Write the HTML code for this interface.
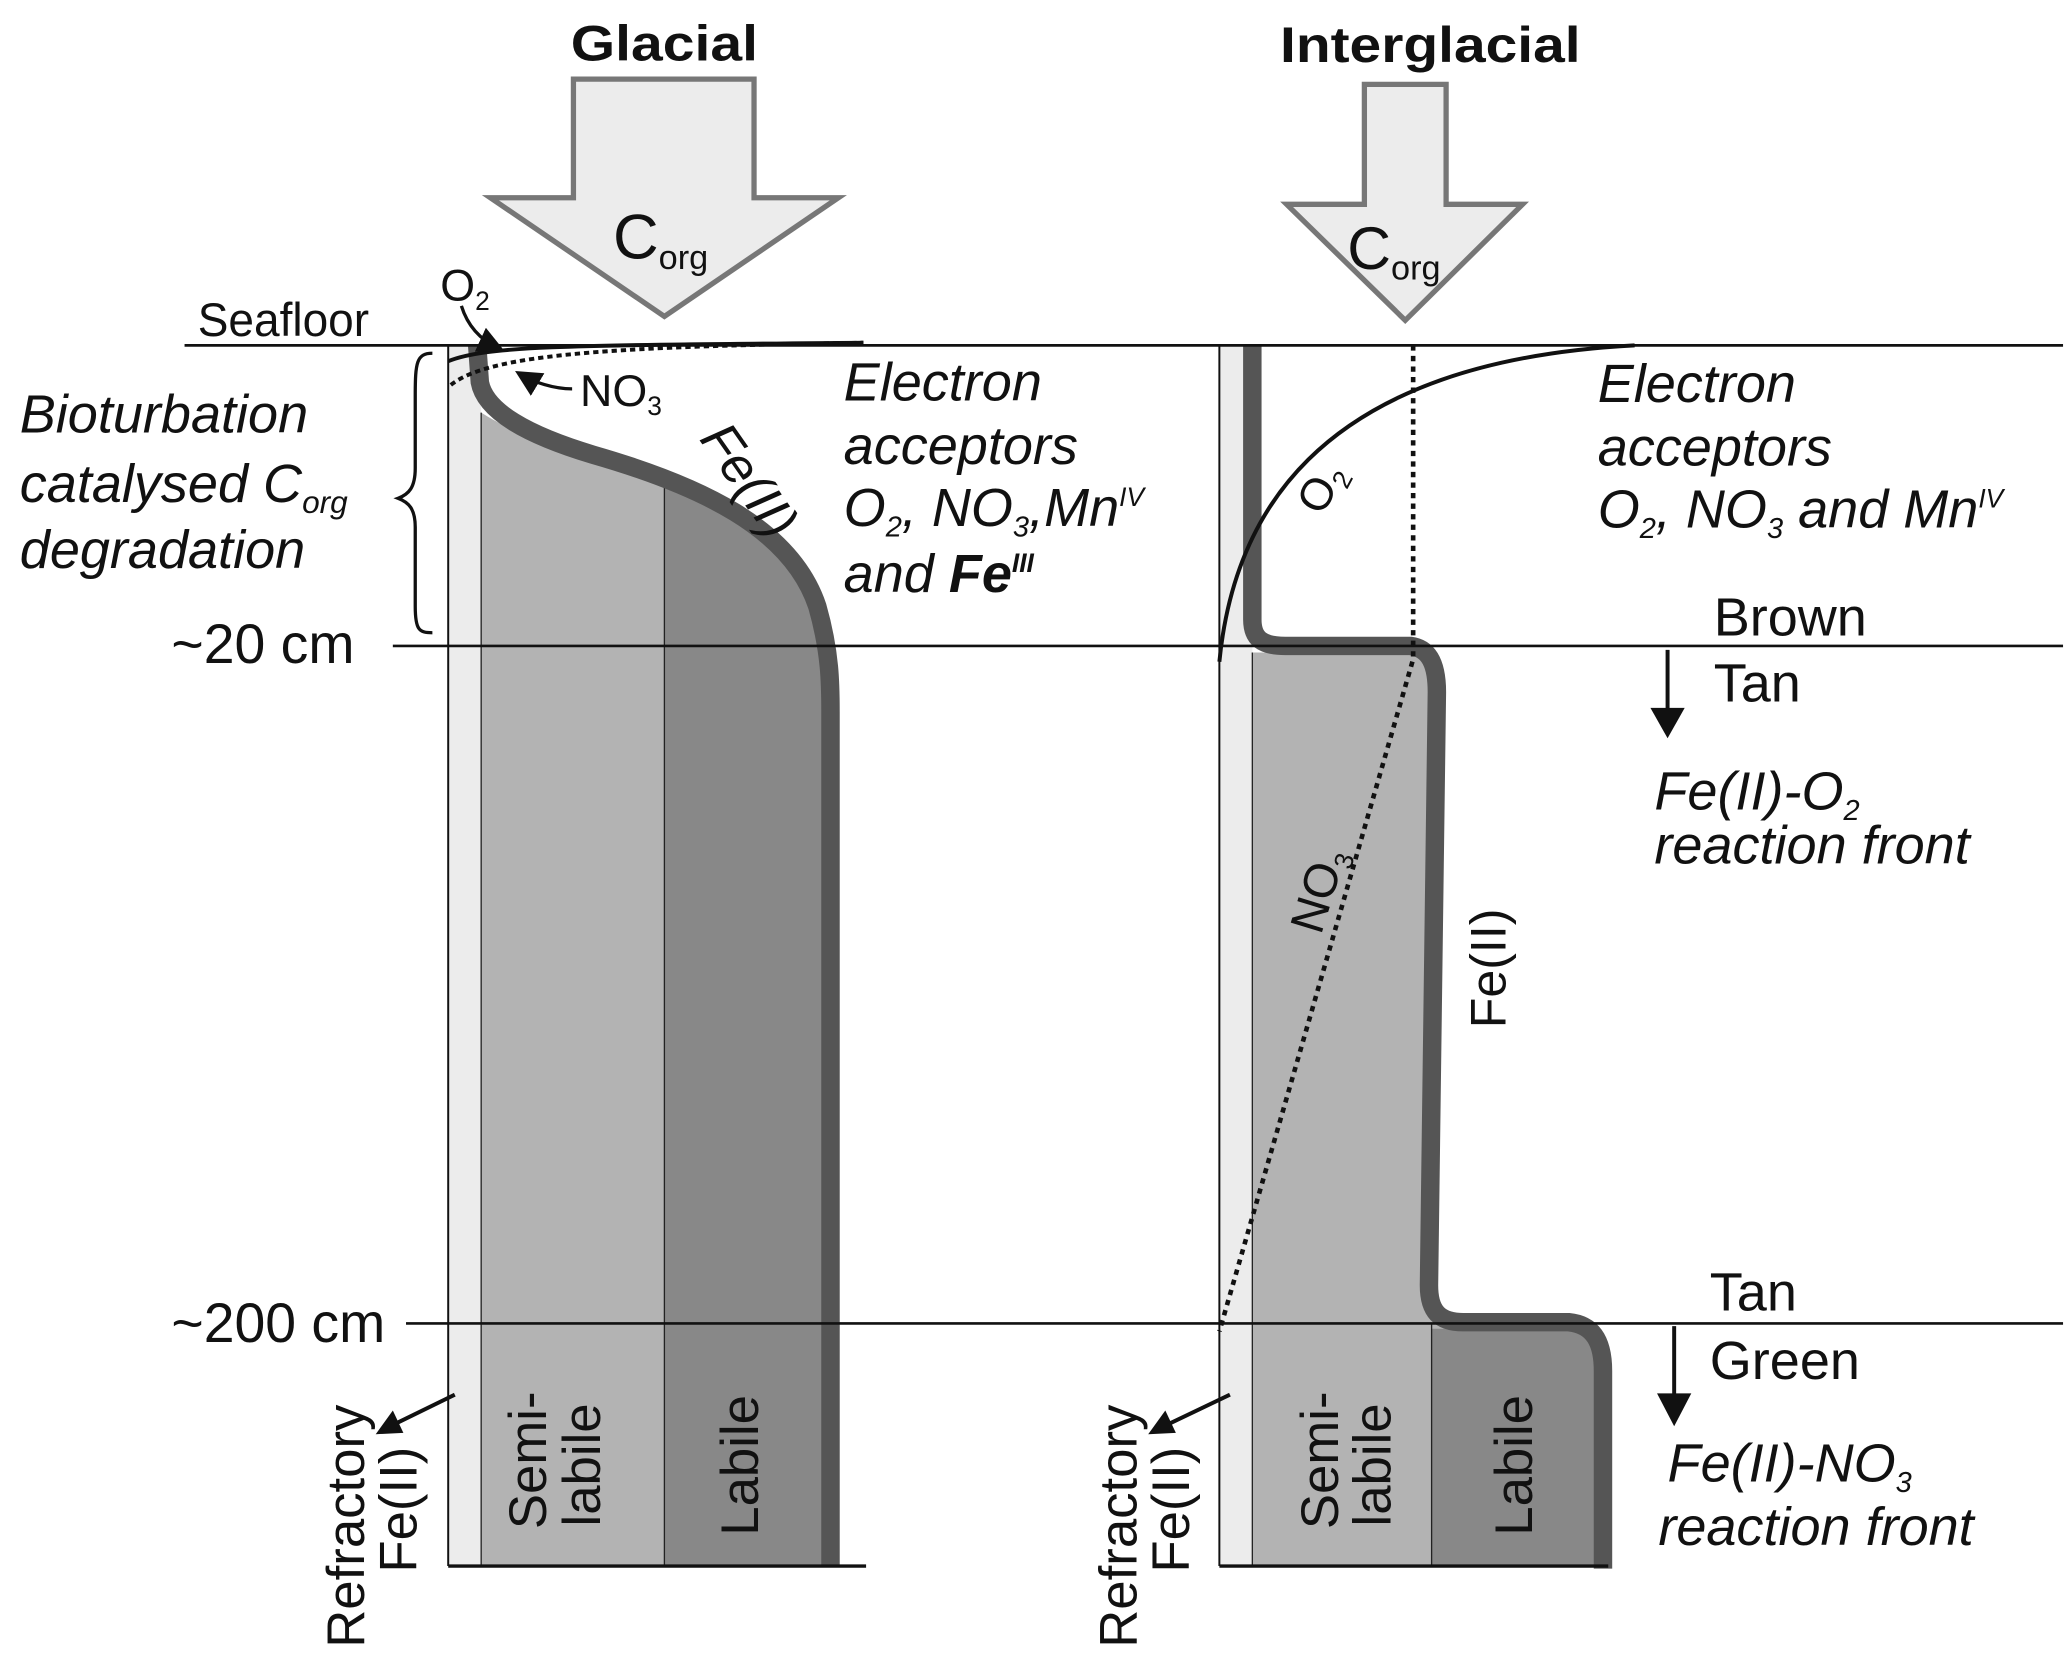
<!DOCTYPE html>
<html><head><meta charset="utf-8"><style>
html,body{margin:0;padding:0;background:#fff}
svg{display:block}
text{font-family:"Liberation Sans",Arial,sans-serif;fill:#111}
.it{font-style:italic}
</style></head><body>
<svg width="2067" height="1657" viewBox="0 0 1568 1257" preserveAspectRatio="none" xmlns="http://www.w3.org/2000/svg">
<defs>
<marker id="ah" markerWidth="8" markerHeight="8" refX="6" refY="4" orient="auto" markerUnits="strokeWidth"><path d="M0,0 L8,4 L0,8 z" fill="#111"/></marker>
</defs>
<!-- Big arrows -->
<path d="M435,60 L572,60 L572,150 L636,150 L504,240 L372,150 L435,150 Z" fill="#ececec" stroke="#777" stroke-width="4"/>
<path d="M1035,64 L1097,64 L1097,155 L1155,155 L1066,243 L976,155 L1035,155 Z" fill="#ececec" stroke="#777" stroke-width="4"/>
<text x="433" y="46" font-size="38" font-weight="bold" textLength="142" lengthAdjust="spacingAndGlyphs">Glacial</text>
<text x="971" y="47" font-size="38" font-weight="bold" textLength="228" lengthAdjust="spacingAndGlyphs">Interglacial</text>
<text x="465" y="196" font-size="48">C<tspan font-size="26" dy="8">org</tspan></text>
<text x="1022" y="204" font-size="46">C<tspan font-size="26" dy="8">org</tspan></text>

<!-- Left column -->
<rect x="340" y="262" width="25" height="926" fill="#ececec"/>
<path d="M365,313 C400,335 450,350 504,368 L504,1188 L365,1188 Z" fill="#b3b3b3"/>
<path d="M504,368 C560,392 610,420 622,470 C628,500 630,520 630,540 L630,1188 L504,1188 Z" fill="#888"/>
<line x1="365" y1="313" x2="365" y2="1188" stroke="#222" stroke-width="1"/>
<line x1="504" y1="368" x2="504" y2="1188" stroke="#222" stroke-width="1"/>
<line x1="340" y1="262" x2="340" y2="1188" stroke="#111" stroke-width="1.5"/>
<path d="M362,262 L364,290 C368,312 400,330 450,345 C530,368 600,400 620,460 C630,495 630,520 630,540 L630,1188" fill="none" stroke="#555" stroke-width="14"/>
<line x1="340" y1="1188" x2="657" y2="1188" stroke="#111" stroke-width="2.5"/>
<path d="M340,274 C370,262 430,262 655,260" fill="none" stroke="#111" stroke-width="3"/>
<path d="M342,292 C370,270 450,263 655,260" fill="none" stroke="#111" stroke-width="3" stroke-dasharray="4,3"/>

<!-- Right column -->
<rect x="925" y="262" width="25" height="926" fill="#ececec"/>
<path d="M950,495 L1070,495 C1085,500 1088,510 1088,525 L1082,985 C1082,1000 1090,1008 1110,1008 L1190,1008 C1205,1010 1212,1020 1212,1035 L1212,1188 L950,1188 Z" fill="#b3b3b3"/>
<path d="M1086,1008 L1190,1008 C1205,1010 1212,1020 1212,1035 L1212,1188 L1086,1188 Z" fill="#888"/>
<line x1="1086" y1="1004" x2="1086" y2="1188" stroke="#222" stroke-width="1"/>
<line x1="950" y1="495" x2="950" y2="1188" stroke="#222" stroke-width="1"/>
<line x1="925" y1="262" x2="925" y2="1188" stroke="#111" stroke-width="1.5"/>
<path d="M950,262 L950,470 C950,485 958,490 975,490 L1070,490 C1085,492 1090,505 1090,525 L1084,975 C1084,995 1092,1003 1110,1003 L1190,1003 C1210,1005 1216,1020 1216,1040 L1216,1190" fill="none" stroke="#555" stroke-width="14"/>
<line x1="925" y1="1188" x2="1220" y2="1188" stroke="#111" stroke-width="2.5"/>
<path d="M1072,262 L1072,500 L925,1010" fill="none" stroke="#111" stroke-width="3.5" stroke-dasharray="4,4"/>
<path d="M925,502 C935,400 990,275 1240,262" fill="none" stroke="#111" stroke-width="3"/>

<!-- Horizontal lines -->
<line x1="140" y1="262" x2="1565" y2="262" stroke="#111" stroke-width="2"/>
<line x1="298" y1="490" x2="1565" y2="490" stroke="#111" stroke-width="2"/>
<line x1="308" y1="1004" x2="1565" y2="1004" stroke="#111" stroke-width="2"/>

<!-- Left labels -->
<text x="150" y="255" font-size="36" textLength="130" lengthAdjust="spacingAndGlyphs">Seafloor</text>
<text x="334" y="228" font-size="34">O<tspan font-size="20" dy="7">2</tspan></text>
<path d="M350,232 C355,248 365,258 378,264" fill="none" stroke="#111" stroke-width="2.5" marker-end="url(#ah)"/>
<text x="440" y="308" font-size="34">NO<tspan font-size="20" dy="7">3</tspan></text>
<path d="M434,295 C420,295 405,290 395,284" fill="none" stroke="#111" stroke-width="2.5" marker-end="url(#ah)"/>
<text class="it" font-size="40" transform="translate(530,333) rotate(55)">Fe(II)</text>
<g class="it" font-size="41">
<text x="640" y="304" class="it">Electron</text>
<text x="640" y="352" class="it">acceptors</text>
<text x="640" y="399" class="it">O<tspan font-size="22" dy="8">2</tspan><tspan dy="-8">, NO</tspan><tspan font-size="22" dy="8">3</tspan><tspan dy="-8">,Mn</tspan><tspan font-size="20" dy="-15">IV</tspan></text>
<text x="640" y="449" class="it">and <tspan font-weight="bold">Fe</tspan><tspan font-size="20" dy="-15" font-weight="bold">III</tspan></text>
<text x="15" y="328" class="it">Bioturbation</text>
<text x="15" y="381" class="it">catalysed C<tspan font-size="24" dy="8">org</tspan></text>
<text x="15" y="431" class="it">degradation</text>
</g>
<path d="M328,268 C316,268 315,275 315,300 L315,355 C315,370 310,375 302,378 C310,381 315,386 315,400 L315,460 C315,478 318,480 328,480" fill="none" stroke="#111" stroke-width="2.5"/>
<text x="130" y="503" font-size="42">~20 cm</text>
<text x="130" y="1018" font-size="42">~200 cm</text>

<!-- Right labels -->
<g font-size="41">
<text x="1212" y="305" class="it">Electron</text>
<text x="1212" y="353" class="it">acceptors</text>
<text x="1212" y="400" class="it">O<tspan font-size="22" dy="8">2</tspan><tspan dy="-8">, NO</tspan><tspan font-size="22" dy="8">3</tspan><tspan dy="-8"> and Mn</tspan><tspan font-size="20" dy="-15">IV</tspan></text>
<text x="1300" y="482">Brown</text>
<text x="1300" y="532">Tan</text>
<text x="1255" y="614" class="it">Fe(II)-O<tspan font-size="22" dy="8">2</tspan></text>
<text x="1255" y="655" class="it">reaction front</text>
<text x="1297" y="994">Tan</text>
<text x="1297" y="1046">Green</text>
<text x="1265" y="1124" class="it">Fe(II)-NO<tspan font-size="22" dy="8">3</tspan></text>
<text x="1258" y="1172" class="it">reaction front</text>
</g>
<line x1="1265" y1="493" x2="1265" y2="540" stroke="#111" stroke-width="3"/>
<path d="M1252,537 L1278,537 L1265,560 Z" fill="#111"/>
<line x1="1270" y1="1006" x2="1270" y2="1060" stroke="#111" stroke-width="3"/>
<path d="M1257,1057 L1283,1057 L1270,1082 Z" fill="#111"/>
<text font-size="34" transform="translate(1003,392) rotate(-62)">O<tspan font-size="20" dy="7">2</tspan></text>
<text font-size="36" transform="translate(1002,710) rotate(-73)">NO<tspan font-size="20" dy="7">3</tspan></text>
<text font-size="38" transform="translate(1142,780) rotate(-90)">Fe(II)</text>

<!-- Rotated column labels -->
<g font-size="40">
<text transform="translate(414,1160) rotate(-90)">Semi-</text>
<text transform="translate(455,1158) rotate(-90)">labile</text>
<text transform="translate(575,1165) rotate(-90)">Labile</text>
<text transform="translate(1015,1160) rotate(-90)">Semi-</text>
<text transform="translate(1055,1158) rotate(-90)">labile</text>
<text transform="translate(1162,1165) rotate(-90)">Labile</text>
<text transform="translate(276,1250) rotate(-90)">Refractory</text>
<text transform="translate(316,1193) rotate(-90)">Fe(II)</text>
<text transform="translate(862,1250) rotate(-90)">Refractory</text>
<text transform="translate(902,1193) rotate(-90)">Fe(II)</text>
</g>
<line x1="345" y1="1058" x2="300" y2="1080" stroke="#111" stroke-width="3"/>
<path d="M285,1088 L298,1070 L306,1087 Z" fill="#111"/>
<line x1="933" y1="1058" x2="887" y2="1080" stroke="#111" stroke-width="3"/>
<path d="M871,1088 L884,1070 L892,1087 Z" fill="#111"/>
</svg>
</body></html>
